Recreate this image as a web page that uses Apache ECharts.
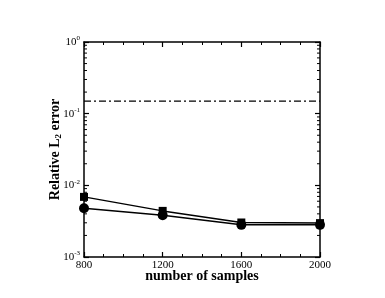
<!DOCTYPE html>
<html><head><meta charset="utf-8">
<script src="https://cdn.jsdelivr.net/npm/echarts@6/dist/echarts.min.js"></script>
<style>html,body{margin:0;padding:0;background:#fff}#c{width:385px;height:298px}</style>
</head><body><div id="c"></div>
<script>
const samples = [800, 1200, 1600, 2000];
const seriesSquare = [0.0069, 0.0044, 0.00303, 0.00297];
const seriesCircle = [0.0048, 0.00383, 0.00281, 0.00281];
const referenceLevel = 0.15;
const xTicks = [800, 1200, 1600, 2000];
const yDecades = [0.001, 0.01, 0.1, 1];
const yMinorTicks = [];
for (const d of [0.001, 0.01, 0.1]) for (let m = 2; m <= 9; m++) yMinorTicks.push(+(d * m).toPrecision(3));

const F = 'Liberation Serif, Times New Roman, serif';
const chart = echarts.init(document.getElementById('c'), null, {renderer: 'canvas'});
chart.setOption({
  animation: false,
  grid: {left: 84, right: 65, top: 42, bottom: 41},
  xAxis: [{
    type: 'value', min: 800, max: 2000, interval: 400,
    axisLine: {lineStyle: {color: '#000', width: 1.5}},
    axisTick: {inside: true, length: 5, lineStyle: {color: '#000', width: 1.2}},
    minorTick: {show: true, splitNumber: 4, length: 3, lineStyle: {color: '#000', width: 1}},
    splitLine: {show: false},
    axisLabel: {fontFamily: F, fontSize: 11, color: '#000', margin: 3, formatter: v => String(v)},
    name: 'number of samples', nameLocation: 'middle', nameGap: 12, nameMoveOverlap: false,
    nameTextStyle: {fontFamily: F, fontSize: 14, fontWeight: 'bold', color: '#000'}
  }, {
    type: 'value', position: 'top', min: 800, max: 2000, interval: 400,
    axisLine: {lineStyle: {color: '#000', width: 1.5}},
    axisTick: {inside: true, length: 5, lineStyle: {color: '#000', width: 1.2}},
    minorTick: {show: true, splitNumber: 4, length: 3, lineStyle: {color: '#000', width: 1}},
    splitLine: {show: false}, axisLabel: {show: false}
  }],
  yAxis: [{
    type: 'log', logBase: 10, min: 0.001, max: 1,
    axisLine: {lineStyle: {color: '#000', width: 1.5}},
    axisTick: {inside: true, length: 5, lineStyle: {color: '#000', width: 1.2}},
    splitLine: {show: false},
    axisLabel: {
      fontFamily: F, fontSize: 11, color: '#000', margin: 4,
      formatter: v => '10{s|' + Math.round(Math.log10(v)) + '}',
      rich: {s: {fontFamily: F, fontSize: 7, verticalAlign: 'top', padding: [0, 0, 7, 0], color: '#000'}}
    },
    name: 'Relative L{sub|2} error', nameLocation: 'middle', nameRotate: 90, nameGap: 21, nameMoveOverlap: false,
    nameTextStyle: {fontFamily: F, fontSize: 14, fontWeight: 'bold', color: '#000',
      rich: {sub: {fontFamily: F, fontSize: 9, fontWeight: 'bold', padding: [6, 0, 0, 0], color: '#000'}}}
  }, {
    type: 'log', logBase: 10, min: 0.001, max: 1, position: 'right',
    axisLine: {lineStyle: {color: '#000', width: 1.5}},
    axisTick: {inside: true, length: 5, lineStyle: {color: '#000', width: 1.2}},
    splitLine: {show: false}, axisLabel: {show: false}
  }],
  series: [{
    type: 'line', data: samples.map((x, i) => [x, seriesSquare[i]]),
    symbol: 'rect', symbolSize: 8, lineStyle: {color: '#000', width: 1.5},
    itemStyle: {color: '#000'}
  }, {
    type: 'line', data: samples.map((x, i) => [x, seriesCircle[i]]),
    symbol: 'circle', symbolSize: 10, lineStyle: {color: '#000', width: 1.5},
    itemStyle: {color: '#000'}
  }, {
    type: 'line', data: [[800, referenceLevel], [2000, referenceLevel]],
    symbol: 'none', lineStyle: {color: '#000', width: 1.2, type: [7, 3, 2, 3]}
  }, {
    type: 'custom', data: yMinorTicks.map(v => [800, v]), silent: true,
    renderItem: (params, api) => {
      const v = api.value(1);
      const pl = api.coord([800, v]);
      const pr = api.coord([2000, v]);
      return {type: 'group', children: [
        {type: 'line', shape: {x1: pl[0], y1: pl[1], x2: pl[0] + 3, y2: pl[1]}, style: {stroke: '#000', lineWidth: 1}},
        {type: 'line', shape: {x1: pr[0], y1: pr[1], x2: pr[0] - 3, y2: pr[1]}, style: {stroke: '#000', lineWidth: 1}}
      ]};
    }
  }]
});
</script></body></html>
